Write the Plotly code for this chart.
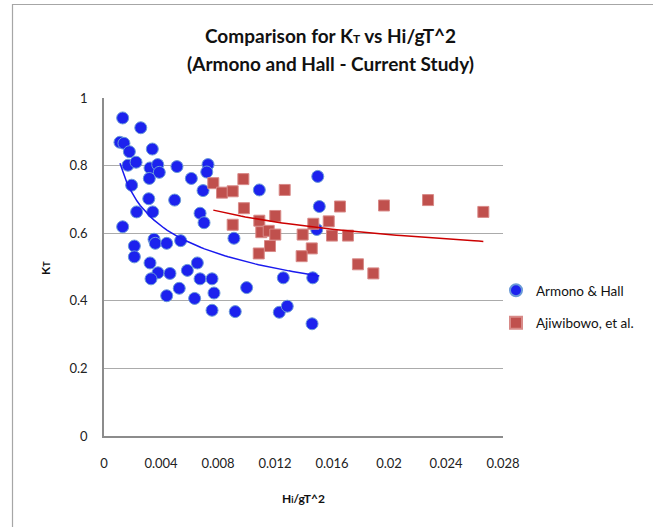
import numpy as np
import plotly.graph_objects as go

# Armono & Hall data (Hi/gT^2, KT)
armono_x = [0.00131, 0.00258, 0.00112, 0.00140, 0.00178, 0.00339, 0.00168, 0.00225, 0.00323, 0.00377,
            0.00388, 0.00512, 0.00730, 0.00721, 0.00318, 0.00613, 0.00194, 0.00695, 0.00314, 0.00496,
            0.00229, 0.00342, 0.00674, 0.00702, 0.00131, 0.00351, 0.00360, 0.00440, 0.00538, 0.00213,
            0.00213, 0.00323, 0.00655, 0.00379, 0.00463, 0.00585, 0.00330, 0.00674, 0.00758, 0.00528,
            0.00440, 0.00636, 0.00772, 0.00758, 0.01090, 0.01500, 0.01511, 0.00912, 0.01493, 0.01258,
            0.01465, 0.01001, 0.00921, 0.01230, 0.01286, 0.01460]
armono_y = [0.941, 0.912, 0.869, 0.866, 0.841, 0.849, 0.801, 0.810, 0.793, 0.803,
            0.780, 0.797, 0.803, 0.781, 0.762, 0.762, 0.742, 0.726, 0.702, 0.698,
            0.663, 0.663, 0.659, 0.631, 0.619, 0.582, 0.570, 0.570, 0.578, 0.562,
            0.530, 0.512, 0.512, 0.483, 0.481, 0.490, 0.465, 0.465, 0.465, 0.437,
            0.415, 0.407, 0.423, 0.372, 0.728, 0.768, 0.679, 0.585, 0.611, 0.468,
            0.468, 0.439, 0.368, 0.366, 0.384, 0.332]

# Ajiwibowo et al. data
ajiw_x = [0.00767, 0.00828, 0.00903, 0.00978, 0.01268, 0.00982, 0.00903, 0.01090, 0.01202, 0.01104,
          0.01156, 0.01202, 0.01165, 0.01086, 0.01394, 0.01469, 0.01458, 0.01387, 0.01577, 0.01656,
          0.01600, 0.01712, 0.01965, 0.02274, 0.02662, 0.01782, 0.01890]
ajiw_y = [0.748, 0.720, 0.724, 0.760, 0.728, 0.674, 0.625, 0.637, 0.651, 0.603,
          0.607, 0.596, 0.562, 0.540, 0.596, 0.628, 0.555, 0.532, 0.635, 0.679,
          0.593, 0.593, 0.682, 0.698, 0.663, 0.508, 0.481]

x_ticks = [0, 0.004, 0.008, 0.012, 0.016, 0.02, 0.024, 0.028]
y_ticks = [0, 0.2, 0.4, 0.6, 0.8, 1]


def power_trend(xs, ys, n=60):
    xs = np.asarray(xs); ys = np.asarray(ys)
    b, lna = np.polyfit(np.log(xs), np.log(ys), 1)
    xt = np.linspace(xs.min(), xs.max(), n)
    return xt, np.exp(lna) * xt ** b


bx, by = power_trend(armono_x, armono_y)
rx, ry = power_trend(ajiw_x, ajiw_y)

FONT = "Lato, 'Open Sans', sans-serif"

fig = go.Figure()
fig.add_trace(go.Scatter(x=armono_x, y=armono_y, mode="markers", name="Armono & Hall",
                         legendgroup="a",
                         marker=dict(symbol="circle", size=12, color="#1c22ee",
                                     line=dict(color="#6a9ad8", width=1))))
fig.add_trace(go.Scatter(x=ajiw_x, y=ajiw_y, mode="markers", name="Ajiwibowo, et al.",
                         legendgroup="b",
                         marker=dict(symbol="square", size=11, color="#c0504d",
                                     line=dict(color="#d88a88", width=1))))
fig.add_trace(go.Scatter(x=bx, y=by, mode="lines", showlegend=False, hoverinfo="skip",
                         line=dict(color="#1a1aee", width=1.5)))
fig.add_trace(go.Scatter(x=rx, y=ry, mode="lines", showlegend=False, hoverinfo="skip",
                         line=dict(color="#cc0000", width=1.5)))

L, R, T, B = 104, 150, 98, 91
W, H = 653, 527
pw, ph = W - L - R, H - T - B


def px(xp):
    return (xp - L) / pw


def py(yp):
    return (H - B - yp) / ph


fig.update_layout(
    width=W, height=H,
    margin=dict(l=L, r=R, t=T, b=B, autoexpand=False),
    paper_bgcolor="white", plot_bgcolor="white",
    font=dict(family=FONT, size=13, color="#222"),
    showlegend=True,
    legend=dict(x=px(496), y=py(275), xanchor="left", yanchor="top",
                font=dict(family=FONT, size=13.5, color="#111"),
                bgcolor="rgba(0,0,0,0)", itemsizing="constant", itemwidth=30,
                traceorder="grouped", tracegroupgap=12),
    xaxis=dict(range=[0, 0.028], tickvals=x_ticks, ticktext=[f"{v:g}" for v in x_ticks],
               showgrid=False, zeroline=False, showline=True, linecolor="#8c8c8c", linewidth=1.5,
               ticks="", ticklabelstandoff=15, tickfont=dict(size=13, color="#222")),
    yaxis=dict(range=[0, 1], tickvals=y_ticks, ticktext=[f"{v:g}" for v in y_ticks],
               showgrid=True, gridcolor="#ababab", gridwidth=1, zeroline=False,
               showline=True, linecolor="#8c8c8c", linewidth=1.5,
               ticks="", ticklabelstandoff=12, tickfont=dict(size=13, color="#222")),
    annotations=[
        dict(text="<b>Comparison for K<span style='font-size:12px'>T</span> vs Hi/gT^2</b>",
             x=px(330), y=py(36), xref="paper", yref="paper", showarrow=False,
             xanchor="center", yanchor="middle",
             font=dict(family=FONT, size=19, color="#111")),
        dict(text="<b>(Armono and Hall - Current Study)</b>",
             x=px(330), y=py(64), xref="paper", yref="paper", showarrow=False,
             xanchor="center", yanchor="middle",
             font=dict(family=FONT, size=19, color="#111")),
        dict(text="<b>K<span style='font-size:9px'>T</span></b>",
             x=px(45), y=py(268), xref="paper", yref="paper", showarrow=False, textangle=-90,
             xanchor="center", yanchor="middle",
             font=dict(family=FONT, size=12, color="#111")),
        dict(text="<b>H<span style='font-size:9px'>i</span>/gT^2</b>",
             x=px(303), y=py(498), xref="paper", yref="paper", showarrow=False,
             xanchor="center", yanchor="middle",
             font=dict(family=FONT, size=12, color="#111")),
    ],
    shapes=[
        dict(type="rect", xref="paper", yref="paper",
             x0=px(12.5), x1=px(700), y0=py(4.5), y1=py(560),
             line=dict(color="#a6a6a6", width=1.2), fillcolor="rgba(0,0,0,0)", layer="below"),
    ],
)

fig.write_html("out.html")
